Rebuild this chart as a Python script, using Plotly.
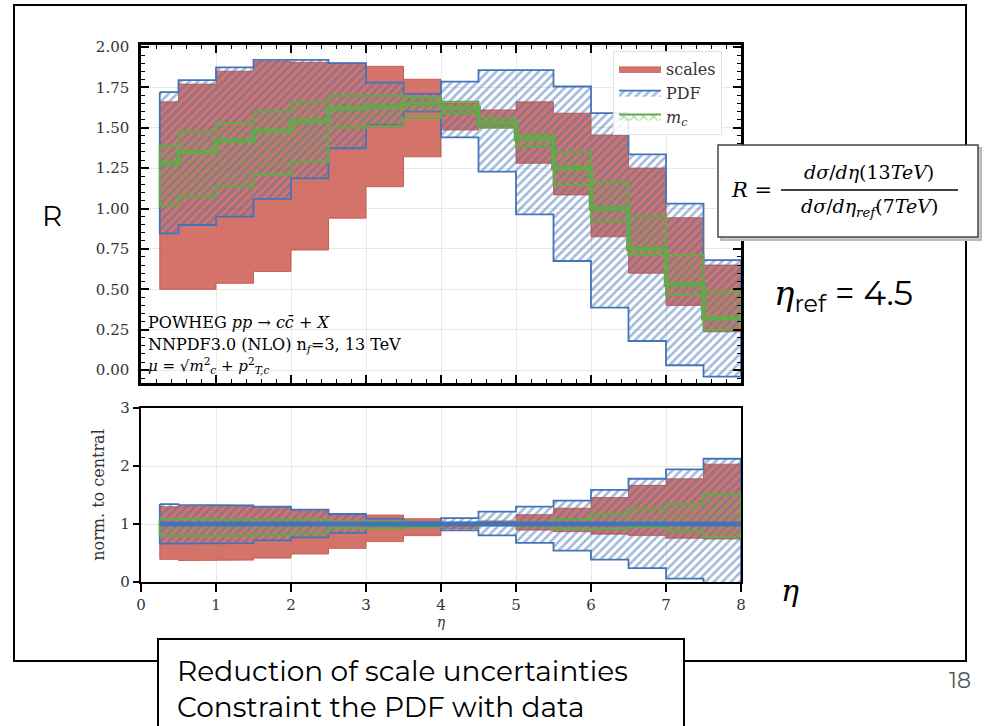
import plotly.graph_objects as go

# ---------------- data ----------------
edges = [0.25, 0.5, 1.0, 1.5, 2.0, 2.5, 3.0, 3.5, 4.0, 4.5, 5.0, 5.5, 6.0, 6.5, 7.0, 7.5, 8.0]
central = [1.28, 1.35, 1.42, 1.48, 1.54, 1.62, 1.63, 1.65, 1.62, 1.53, 1.43, 1.25, 1.00, 0.75, 0.53, 0.32]
scales_up = [1.66, 1.77, 1.85, 1.91, 1.905, 1.90, 1.88, 1.80, 1.65, 1.61, 1.66, 1.59, 1.455, 1.25, 0.943, 0.65]
scales_lo = [0.50, 0.50, 0.537, 0.61, 0.743, 0.94, 1.135, 1.32, 1.486, 1.507, 1.28, 1.084, 0.825, 0.60, 0.40, 0.237]
pdf_up = [1.72, 1.795, 1.874, 1.92, 1.92, 1.90, 1.78, 1.71, 1.785, 1.857, 1.857, 1.755, 1.59, 1.335, 1.03, 0.68]
pdf_lo = [0.846, 0.898, 0.95, 1.06, 1.187, 1.373, 1.517, 1.60, 1.44, 1.228, 0.964, 0.675, 0.386, 0.18, 0.03, -0.04]
mc_up = [1.39, 1.476, 1.53, 1.60, 1.66, 1.70, 1.70, 1.69, 1.66, 1.56, 1.46, 1.35, 1.166, 0.95, 0.712, 0.485]
mc_lo = [1.02, 1.073, 1.135, 1.207, 1.29, 1.50, 1.51, 1.56, 1.59, 1.50, 1.38, 1.146, 0.918, 0.712, 0.464, 0.248]

top_yticks = [0.0, 0.25, 0.5, 0.75, 1.0, 1.25, 1.5, 1.75, 2.0]
bot_yticks = [0, 1, 2, 3]
x_ticks = [0, 1, 2, 3, 4, 5, 6, 7, 8]

legend_names = ["scales", "PDF", "<i>m</i><sub><i>c</i></sub>"]

# ---------------- helpers ----------------
RED_FILL = "rgba(200,80,68,0.8)"
RED_LINE = "rgba(200,80,68,0.85)"
BLUE = "#4474b8"
GREEN = "#66a94a"
SERIF = "DejaVu Serif"
SANS = "Montserrat, Noto Sans, sans-serif"


def band_xy(up, lo):
    xs, ys = [], []
    for i in range(len(up)):
        xs += [edges[i], edges[i + 1]]
        ys += [up[i], up[i]]
    for i in reversed(range(len(lo))):
        xs += [edges[i + 1], edges[i]]
        ys += [lo[i], lo[i]]
    xs.append(xs[0])
    ys.append(ys[0])
    return xs, ys


def step_xy(vals):
    xs, ys = [], []
    for i, v in enumerate(vals):
        xs += [edges[i], edges[i + 1]]
        ys += [v, v]
    return xs, ys


def ratio(vals):
    return [v / c for v, c in zip(vals, central)]


fig = go.Figure()


def add_bands(up_s, lo_s, up_p, lo_p, up_m, lo_m, xa, ya, legend):
    x, y = band_xy(up_s, lo_s)
    fig.add_trace(go.Scatter(x=x, y=y, xaxis=xa, yaxis=ya, mode="lines", fill="toself",
                             fillcolor=RED_FILL, line=dict(color=RED_LINE, width=1),
                             name=legend_names[0], showlegend=legend, legendrank=1,
                             hoverinfo="skip"))
    x, y = band_xy(up_p, lo_p)
    fig.add_trace(go.Scatter(x=x, y=y, xaxis=xa, yaxis=ya, mode="lines", fill="toself",
                             fillcolor="rgba(0,0,0,0)",
                             fillpattern=dict(shape="/", fgcolor=BLUE, bgcolor="rgba(0,0,0,0)",
                                              size=6, solidity=0.42),
                             line=dict(color=BLUE, width=1.8),
                             name=legend_names[1], showlegend=legend, legendrank=2,
                             hoverinfo="skip"))
    x, y = band_xy(up_m, lo_m)
    fig.add_trace(go.Scatter(x=x, y=y, xaxis=xa, yaxis=ya, mode="lines", fill="toself",
                             fillcolor="rgba(0,0,0,0)",
                             fillpattern=dict(shape="x", fgcolor=GREEN, bgcolor="rgba(0,0,0,0)",
                                              size=7, solidity=0.35),
                             line=dict(color=GREEN, width=2),
                             name=legend_names[2], showlegend=legend, legendrank=3,
                             hoverinfo="skip"))


# top panel
add_bands(scales_up, scales_lo, pdf_up, pdf_lo, mc_up, mc_lo, "x", "y", True)
sx, sy = step_xy(central)
fig.add_trace(go.Scatter(x=sx, y=sy, xaxis="x", yaxis="y", mode="lines",
                         line=dict(color=BLUE, width=4), showlegend=False, hoverinfo="skip"))
fig.add_trace(go.Scatter(x=sx, y=sy, xaxis="x", yaxis="y", mode="lines",
                         line=dict(color=GREEN, width=4.5), showlegend=False, hoverinfo="skip"))

# bottom panel (normalised to central)
add_bands(ratio(scales_up), ratio(scales_lo), ratio(pdf_up), ratio(pdf_lo),
          ratio(mc_up), ratio(mc_lo), "x2", "y2", False)
rx, ry = step_xy(ratio(central))
fig.add_trace(go.Scatter(x=rx, y=ry, xaxis="x2", yaxis="y2", mode="lines",
                         line=dict(color=GREEN, width=3), showlegend=False, hoverinfo="skip"))
fig.add_trace(go.Scatter(x=rx, y=ry, xaxis="x2", yaxis="y2", mode="lines",
                         line=dict(color=BLUE, width=5), showlegend=False, hoverinfo="skip"))

# ---------------- layout ----------------
L, R_, T, B = 141, 252, 45, 144
W, H = 993, 726
PW, PH = W - L - R_, H - T - B


def px(xp):
    return (xp - L) / PW


def py(yp):
    return (H - B - yp) / PH


tick_font = dict(family=SERIF, size=15, color="#333333")

fig.update_layout(
    width=W, height=H,
    margin=dict(l=L, r=R_, t=T, b=B),
    paper_bgcolor="white", plot_bgcolor="white",
    showlegend=True,
    legend=dict(x=px(613), y=py(51), xanchor="left", yanchor="top",
                bgcolor="rgba(255,255,255,0.85)", bordercolor="#e2e2e2", borderwidth=1,
                font=dict(family=SERIF, size=16, color="#333333"),
                traceorder="normal", itemwidth=42, tracegroupgap=0),
    xaxis=dict(domain=[0, 1], anchor="y", range=[0, 8], tickvals=x_ticks,
               showticklabels=False, ticks="inside", ticklen=8, tickwidth=1.6, tickcolor="black",
               minor=dict(ticks="inside", ticklen=4, tickwidth=1.2, tickcolor="black", dtick=0.2,
                          showgrid=False),
               showline=True, linewidth=2.5, linecolor="black", mirror="allticks",
               showgrid=True, gridcolor="#e8e8e8", gridwidth=1, zeroline=False),
    yaxis=dict(domain=[py(383), 1], anchor="x", range=[-0.08, 2.012], tickvals=top_yticks,
               tickformat=".2f", tickfont=tick_font, ticklabelstandoff=6,
               ticks="inside", ticklen=8, tickwidth=1.6, tickcolor="black",
               minor=dict(ticks="inside", ticklen=4, tickwidth=1.2, tickcolor="black", dtick=0.05,
                          showgrid=False),
               showline=True, linewidth=2.5, linecolor="black", mirror="allticks",
               showgrid=True, gridcolor="#e8e8e8", gridwidth=1, zeroline=False),
    xaxis2=dict(domain=[0, 1], anchor="y2", range=[0, 8], tickvals=x_ticks,
                tickfont=tick_font, ticks="outside", ticklen=8, tickwidth=2.2, tickcolor="black",
                showline=True, linewidth=2.2, linecolor="black", mirror=True,
                showgrid=True, gridcolor="#e8e8e8", zeroline=False,
                title=dict(text="<i>η</i>", font=dict(family=SERIF, size=14, color="#333333"),
                           standoff=2)),
    yaxis2=dict(domain=[0, py(408)], anchor="x2", range=[0, 3], tickvals=bot_yticks,
                tickfont=tick_font, ticks="outside", ticklen=6, tickwidth=2.2, tickcolor="black",
                showline=True, linewidth=2.2, linecolor="black", mirror=True,
                showgrid=True, gridcolor="#e8e8e8", zeroline=False,
                title=dict(text="norm. to central", font=dict(family=SERIF, size=16, color="#333333"),
                           standoff=12)),
)

shapes = []
# slide frame
shapes.append(dict(type="rect", xref="paper", yref="paper", x0=px(14), x1=px(966), y0=py(5), y1=py(661),
                   line=dict(color="black", width=2), fillcolor="rgba(0,0,0,0)", layer="above"))
# formula box with shadow
shapes.append(dict(type="rect", xref="paper", yref="paper", x0=px(721), x1=px(981), y0=py(148), y1=py(240),
                   line=dict(color="#bbbbbb", width=2), fillcolor="#cccccc", layer="above"))
shapes.append(dict(type="rect", xref="paper", yref="paper", x0=px(718), x1=px(978), y0=py(145), y1=py(237),
                   line=dict(color="#444444", width=1.5), fillcolor="white", layer="above"))
shapes.append(dict(type="line", xref="paper", yref="paper", x0=px(781), x1=px(958), y0=py(190), y1=py(190),
                   line=dict(color="black", width=1.5), layer="above"))
# bottom text box
shapes.append(dict(type="rect", xref="paper", yref="paper", x0=px(158), x1=px(684), y0=py(639), y1=py(740),
                   line=dict(color="black", width=2), fillcolor="white", layer="above"))
fig.update_layout(shapes=shapes)


def ann(text, xp, yp, size, family, xanchor="center", yanchor="middle", color="black", align="center"):
    return dict(text=text, x=px(xp), y=py(yp), xref="paper", yref="paper", showarrow=False,
                font=dict(size=size, family=family, color=color), xanchor=xanchor, yanchor=yanchor,
                align=align)


anns = [
    # texts inside the plot
    ann("POWHEG <i>pp</i> → <i>c</i><i>c\u0304</i> + <i>X</i>", 146, 322, 16, SERIF, "left"),
    ann("NNPDF3.0 (NLO) n<sub><i>f</i></sub>=3, 13 TeV", 146, 345, 16, SERIF, "left"),
    ann("<i>μ</i> = √<i>m</i><sup>2</sup><sub><i>c</i></sub> + <i>p</i><sup>2</sup><sub><i>T,c</i></sub>",
        146, 365, 15, SERIF, "left"),
    # formula
    ann("<i>R</i> =", 751, 190, 21, SERIF),
    ann("<i>dσ</i>/<i>dη</i>(13<i>TeV</i>)", 869, 172, 19, SERIF),
    ann("<i>dσ</i>/<i>dη</i><sub><i>ref</i></sub>(7<i>TeV</i>)", 869, 208, 19, SERIF),
    # slide texts
    ann("R", 52, 216, 28, SANS),
    ann("<span style='font-family:DejaVu Serif'><i>η</i></span><sub>ref</sub> = 4.5", 772, 295, 34, SANS, "left"),
    ann("<i>η</i>", 790, 590, 30, SERIF),
    ann("18", 960, 680, 22, SANS, color="#555555"),
    ann("Reduction of scale uncertainties<br>Constraint the PDF with data", 175, 689, 28, SANS, "left",
        align="left"),
]
fig.update_layout(annotations=anns)

fig.write_html("out.html")
